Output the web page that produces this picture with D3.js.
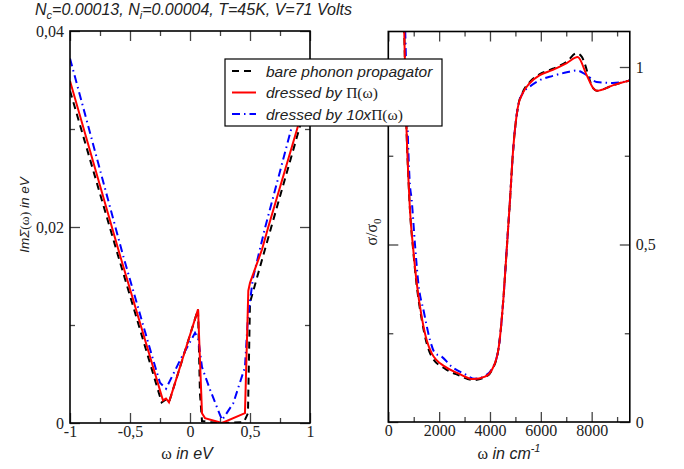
<!DOCTYPE html>
<html>
<head>
<meta charset="utf-8">
<script src="https://cdn.jsdelivr.net/npm/d3@7"></script>
<style>
  body { margin: 0; background: #fff; }
  .tick text { font-family: "Liberation Serif", serif; font-size: 16px; fill: #222; }
  .sans { font-family: "Liberation Sans", Arial, sans-serif; font-style: italic; }
  .serif { font-family: "Liberation Serif", serif; font-style: normal; }
</style>
</head>
<body>
<div id="chart-area"></div>
<script>
// left panel: Im Sigma(omega) vs omega (eV)
const bareX  = [-1, -0.6, -0.236, -0.2, -0.175, 0.067, 0.083, 0.1, 0.15, 0.3, 0.45, 0.483, 0.5, 0.675, 0.917, 1];
const bareY  = [0.0339, 0.0171, 0.0021, 0.0024, 0.0021, 0.0116, 0.003, 0.0002, 0.0001, 0.0, 0.0001, 0.001, 0.0123, 0.0199, 0.0303, 0.0338];
const dresX  = [-1, -0.583, -0.225, -0.2, -0.175, 0.067, 0.1, 0.125, 0.267, 0.458, 0.486, 0.5, 0.6, 0.65, 0.9, 1];
const dresY  = [0.0349, 0.0171, 0.0023, 0.0025, 0.0021, 0.0116, 0.001, 0.0005, 0.0, 0.001, 0.0135, 0.0143, 0.0177, 0.0199, 0.0303, 0.0347];
const dres10X = [-1, -0.558, -0.306, -0.25, -0.2, -0.083, 0.042, 0.069, 0.1, 0.167, 0.267, 0.36, 0.458, 0.483, 0.525, 0.625, 0.85, 1];
const dres10Y = [0.0372, 0.0171, 0.0064, 0.0041, 0.0035, 0.0064, 0.0092, 0.0086, 0.0057, 0.0034, 0.0003, 0.002, 0.0057, 0.0108, 0.0148, 0.0199, 0.0303, 0.037];

// right panel: sigma/sigma0 vs omega (cm^-1)
const sigBareX = [560, 627, 706, 795, 850, 984, 1117, 1312, 1509, 1700, 2230, 2754, 3345, 3804, 4066, 4328, 4524, 4657, 4787, 4902, 5098, 5294, 5569, 5961, 6471, 7020, 7412, 7607, 8066, 8197, 8853, 9500];
const sigBareY = [1.25, 1.10, 0.85, 0.68, 0.6, 0.48, 0.385, 0.29, 0.222, 0.185, 0.15, 0.132, 0.118, 0.126, 0.145, 0.203, 0.344, 0.485, 0.625, 0.758, 0.887, 0.93, 0.958, 0.98, 0.995, 1.015, 1.039, 1.029, 0.94, 0.933, 0.949, 0.962];
const sigDresX = [560, 627, 706, 795, 850, 984, 1117, 1312, 1509, 1705, 2230, 2754, 3345, 3804, 4066, 4328, 4524, 4657, 4787, 4902, 5098, 5294, 5569, 5961, 6471, 7020, 7451, 7805, 8066, 8197, 8853, 9500];
const sigDresY = [1.25, 1.10, 0.85, 0.68, 0.6, 0.485, 0.392, 0.297, 0.231, 0.194, 0.156, 0.137, 0.121, 0.128, 0.146, 0.203, 0.344, 0.485, 0.625, 0.758, 0.887, 0.927, 0.955, 0.977, 0.992, 1.011, 1.028, 0.977, 0.94, 0.933, 0.949, 0.962];
const sigDres10X = [600, 666, 750, 840, 920, 1050, 1180, 1400, 1640, 1837, 2100, 2494, 3000, 3400, 3804, 4066, 4328, 4524, 4657, 4787, 4902, 5098, 5294, 5569, 5961, 6471, 7020, 7412, 7804, 8196, 8823, 9500];
const sigDres10Y = [1.25, 1.10, 0.85, 0.68, 0.625, 0.5, 0.392, 0.31, 0.231, 0.194, 0.184, 0.156, 0.135, 0.122, 0.13, 0.148, 0.203, 0.344, 0.485, 0.625, 0.758, 0.887, 0.927, 0.945, 0.963, 0.975, 0.985, 0.99, 0.977, 0.958, 0.955, 0.962];

// ticks
const leftXMajor = [-1, -0.5, 0, 0.5, 1];
const leftXMinor = [-0.75, -0.25, 0.25, 0.75];
const leftYMajor = [0, 0.02, 0.04];
const leftYMinor = [0.01, 0.03];
const rightXMajor = [0, 2000, 4000, 6000, 8000];
const rightXMinor = [1000, 3000, 5000, 7000, 9000];
const rightYMajor = [0, 0.5, 1];
const rightYMinor = [0.25, 0.75];

const legendLabels = ['bare phonon propagator', 'dressed by ', 'dressed by 10x'];

const fmt = d => String(d).replace('.', ',');

const svg = d3.select('#chart-area')
    .append('svg')
    .attr('width', 684)
    .attr('height', 469);

const xL = d3.scaleLinear().domain([-1, 1]).range([70, 310]);
const yL = d3.scaleLinear().domain([0, 0.04]).range([423, 31]);
const xR = d3.scaleLinear().domain([0, 9500]).range([388.3, 629.8]);
const yR = d3.scaleLinear().domain([0, 1.1]).range([422, 31.5]);

const styles = [
    {color: 'black', dash: '7,5'},
    {color: 'blue', dash: '8,4,1.5,4'},
    {color: 'red', dash: null}
];

function drawAxes(x, y, xMaj, xMin, yMaj, yMin, labelsLeft) {
    const [x0, x1] = x.range();
    const [y0, y1] = y.range();
    const g = svg.append('g');
    const axes = [
        [d3.axisBottom(x), y0, true, xMaj, xMin, 'x', 3],
        [d3.axisTop(x), y1, false, xMaj, xMin, 'x', 3],
        [d3.axisLeft(y), x0, labelsLeft === true, yMaj, yMin, 'y', 6],
        [d3.axisRight(y), x1, labelsLeft === false, yMaj, yMin, 'y', 6]
    ];
    axes.forEach(([ax, pos, labels, maj, min, dir, pad]) => {
        const tr = dir === 'x' ? `translate(0,${pos})` : `translate(${pos},0)`;
        const a = g.append('g').attr('transform', tr)
            .call(ax.tickValues(maj).tickSize(-10).tickSizeOuter(0).tickPadding(pad)
                .tickFormat(labels ? fmt : ''));
        a.select('.domain').remove();
        a.selectAll('.tick line').attr('stroke', '#444').attr('stroke-width', 1.3);
        g.append('g').attr('transform', tr)
            .call(ax.tickValues(min).tickSize(-5).tickFormat(''))
            .call(s => s.select('.domain').remove())
            .selectAll('.tick line').attr('stroke', '#444').attr('stroke-width', 1.3);
    });
    g.append('rect')
        .attr('x', x0).attr('y', y1)
        .attr('width', x1 - x0).attr('height', y0 - y1)
        .attr('fill', 'none').attr('stroke', 'black').attr('stroke-width', 1.6);
    return g;
}

function drawCurves(x, y, sets, id, curve) {
    const [x0, x1] = x.range();
    const [y0, y1] = y.range();
    svg.append('clipPath').attr('id', id)
        .append('rect').attr('x', x0).attr('y', y1).attr('width', x1 - x0).attr('height', y0 - y1);
    const g = svg.append('g').attr('clip-path', `url(#${id})`);
    sets.forEach(([xs, ys], i) => {
        const pts = xs.map((v, j) => [v, ys[j]]);
        g.append('path')
            .datum(pts)
            .attr('fill', 'none')
            .attr('stroke', styles[i].color)
            .attr('stroke-width', 2)
            .attr('stroke-dasharray', styles[i].dash)
            .attr('d', d3.line().x(d => x(d[0])).y(d => y(d[1])).curve(curve));
    });
}

drawCurves(xL, yL, [[bareX, bareY], [dres10X, dres10Y], [dresX, dresY]], 'clipL', d3.curveLinear);
drawCurves(xR, yR, [[sigBareX, sigBareY], [sigDres10X, sigDres10Y], [sigDresX, sigDresY]], 'clipR', d3.curveMonotoneX);

drawAxes(xL, yL, leftXMajor, leftXMinor, leftYMajor, leftYMinor, true);
drawAxes(xR, yR, rightXMajor, rightXMinor, rightYMajor, rightYMinor, false);

// title
const title = svg.append('text').attr('class', 'sans').attr('x', 35).attr('y', 15)
    .attr('font-size', '16px').attr('fill', '#222');
title.append('tspan').text('N');
title.append('tspan').attr('font-size', '11px').attr('dy', 4).text('c');
title.append('tspan').attr('dy', -4).text('=0.00013, N');
title.append('tspan').attr('font-size', '11px').attr('dy', 4).text('i');
title.append('tspan').attr('dy', -4).text('=0.00004, T=45K, V=71 Volts');

// axis labels
const xlab = svg.append('text').attr('x', 187).attr('y', 459).attr('text-anchor', 'middle')
    .attr('font-size', '16px').attr('fill', '#222');
xlab.append('tspan').attr('class', 'serif').text('ω');
xlab.append('tspan').attr('class', 'sans').text(' in eV');

const xlabR = svg.append('text').attr('x', 509).attr('y', 459).attr('text-anchor', 'middle')
    .attr('font-size', '16px').attr('fill', '#222');
xlabR.append('tspan').attr('class', 'serif').text('ω');
xlabR.append('tspan').attr('class', 'sans').text(' in cm');
xlabR.append('tspan').attr('class', 'sans').attr('font-size', '11px').attr('dy', -7).text('-1');

const ylab = svg.append('text').attr('transform', 'translate(29,215) rotate(-90)')
    .attr('text-anchor', 'middle').attr('font-size', '13.5px').attr('fill', '#222');
ylab.append('tspan').attr('class', 'sans').text('ImΣ');
ylab.append('tspan').attr('class', 'serif').text('(ω)');
ylab.append('tspan').attr('class', 'sans').text(' in eV');

const ylabR = svg.append('text').attr('transform', 'translate(377,232) rotate(-90)')
    .attr('text-anchor', 'middle').attr('font-size', '16px').attr('fill', '#222')
    .attr('class', 'serif');
ylabR.append('tspan').text('σ/σ');
ylabR.append('tspan').attr('font-size', '11px').attr('dy', 4).text('0');

// legend
const lg = svg.append('g');
lg.append('rect').attr('x', 225).attr('y', 59).attr('width', 217).attr('height', 67)
    .attr('fill', 'white').attr('stroke', 'black').attr('stroke-width', 1.2);
const rowY = [71, 92.5, 114];
const legendStyle = [0, 2, 1];
legendLabels.forEach((lab, i) => {
    const st = styles[legendStyle[i]];
    lg.append('line').attr('x1', 232).attr('x2', 256).attr('y1', rowY[i]).attr('y2', rowY[i])
        .attr('stroke', st.color)
        .attr('stroke-width', 2)
        .attr('stroke-dasharray', st.dash);
    const t = lg.append('text').attr('x', 266).attr('y', rowY[i] + 5.5)
        .attr('font-size', '15.5px').attr('fill', '#222');
    t.append('tspan').attr('class', 'sans').text(lab);
    if (i > 0) t.append('tspan').attr('class', 'serif').text('Π(ω)');
});
</script>
</body>
</html>
